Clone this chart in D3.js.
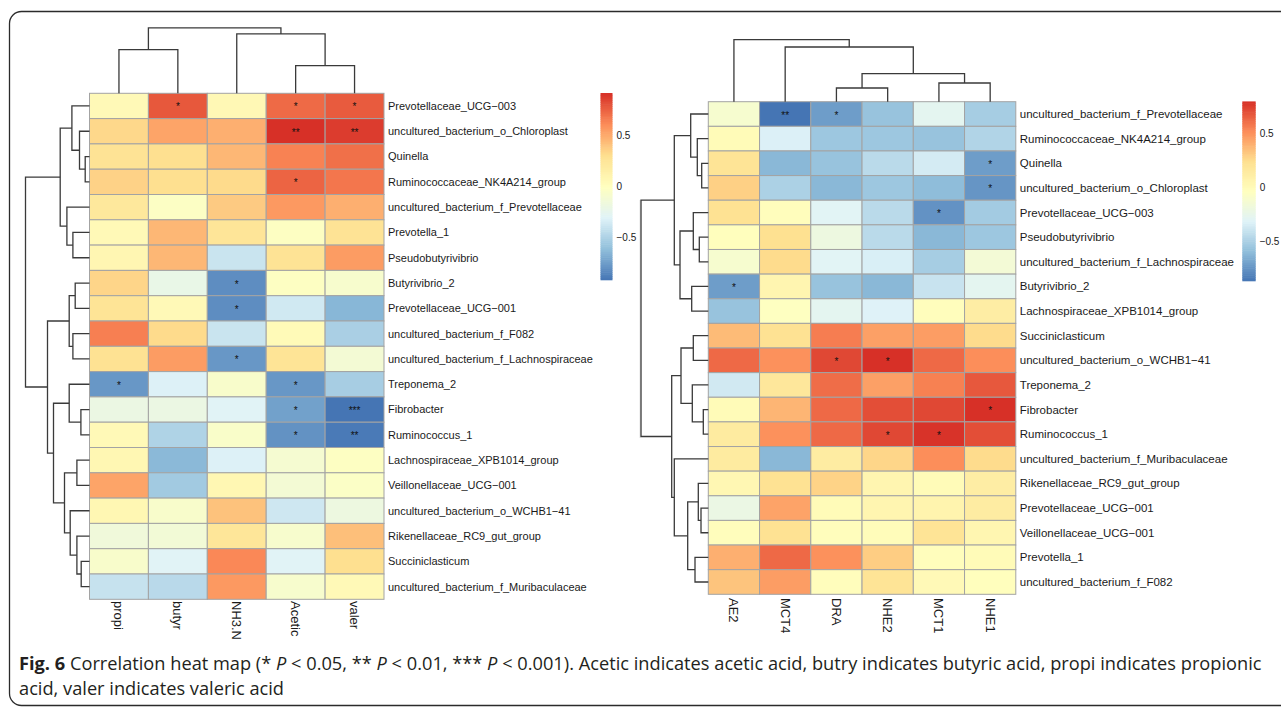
<!DOCTYPE html>
<html>
<head>
<meta http-equiv="Content-type" content="text/html; charset=utf-8">
<title>Fig. 6 correlation heat map</title>
<script src="https://cdn.jsdelivr.net/npm/d3@7"></script>
<style>
  body { margin: 0; background: #fff; }
  svg { display: block; font-family: "Liberation Sans", Arial, sans-serif; }
</style>
</head>
<body>
<svg id="chart" width="1281" height="710"></svg>
<script>

// ---------- left map: bacteria vs fermentation parameters ----------
var acidCols = ["propi", "butyr", "NH3.N", "Acetic", "valer"];
var acidRows = [
  "Prevotellaceae_UCG\u2212003", "uncultured_bacterium_o_Chloroplast", "Quinella",
  "Ruminococcaceae_NK4A214_group", "uncultured_bacterium_f_Prevotellaceae", "Prevotella_1",
  "Pseudobutyrivibrio", "Butyrivibrio_2", "Prevotellaceae_UCG\u2212001",
  "uncultured_bacterium_f_F082", "uncultured_bacterium_f_Lachnospiraceae", "Treponema_2",
  "Fibrobacter", "Ruminococcus_1", "Lachnospiraceae_XPB1014_group",
  "Veillonellaceae_UCG\u2212001", "uncultured_bacterium_o_WCHB1\u221241", "Rikenellaceae_RC9_gut_group",
  "Succiniclasticum", "uncultured_bacterium_f_Muribaculaceae"
];
var acidValues = [
  [ 0.05,  0.78,  0.06,  0.72,  0.77],
  [ 0.33,  0.52,  0.48,  0.91,  0.87],
  [ 0.27,  0.30,  0.45,  0.64,  0.70],
  [ 0.35,  0.30,  0.32,  0.74,  0.68],
  [ 0.22, -0.03,  0.38,  0.56,  0.48],
  [ 0.05,  0.45,  0.25, -0.02,  0.27],
  [ 0.08,  0.45, -0.40,  0.27,  0.55],
  [ 0.34, -0.22, -0.82, -0.02, -0.08],
  [ 0.26,  0.05, -0.82, -0.37, -0.65],
  [ 0.65,  0.32, -0.40,  0.04, -0.52],
  [ 0.28,  0.55, -0.78,  0.26, -0.12],
  [-0.78, -0.32, -0.07, -0.78, -0.53],
  [-0.20, -0.20, -0.30, -0.74, -0.92],
  [ 0.05, -0.50, -0.06, -0.80, -0.90],
  [ 0.07, -0.64, -0.32, -0.10, -0.02],
  [ 0.52, -0.55,  0.07, -0.12, -0.04],
  [ 0.07, -0.07,  0.41, -0.38, -0.18],
  [-0.15, -0.13,  0.24, -0.08,  0.42],
  [-0.07, -0.30,  0.62, -0.30,  0.30],
  [-0.41, -0.46,  0.56, -0.08,  0.05]
];
// [row, col, mark]
var acidStars = [
  [0, 1, "*"], [0, 3, "*"], [0, 4, "*"], [1, 3, "**"], [1, 4, "**"], [3, 3, "*"],
  [7, 2, "*"], [8, 2, "*"], [10, 2, "*"], [11, 0, "*"], [11, 3, "*"],
  [12, 3, "*"], [12, 4, "***"], [13, 3, "*"], [13, 4, "**"]
];
// dendrograms: [merge height, left, right], leaves are indices
var acidRowTree = [64,
  [29.3, [17.6, 0, [10, 1, [4.3, 2, 3]]], [22.6, 4, [16.6, 5, 6]]],
  [42,
    [20.3, [14.3, 7, 8], [16.6, 9, 10]],
    [36, [20.3, 11, [8.6, 12, 13]],
         [25, [12.6, 14, 15], [19.3, 16, [12.6, 17, [8.3, 18, 19]]]]]]
];
var acidColTree = [65.4, [43.7, 0, 1], [59.4, 2, [27.7, 3, 4]]];

// ---------- right map: bacteria vs transporter genes ----------
var geneCols = ["AE2", "MCT4", "DRA", "NHE2", "MCT1", "NHE1"];
var geneRows = [
  "uncultured_bacterium_f_Prevotellaceae", "Ruminococcaceae_NK4A214_group", "Quinella",
  "uncultured_bacterium_o_Chloroplast", "Prevotellaceae_UCG\u2212003", "Pseudobutyrivibrio",
  "uncultured_bacterium_f_Lachnospiraceae", "Butyrivibrio_2", "Lachnospiraceae_XPB1014_group",
  "Succiniclasticum", "uncultured_bacterium_o_WCHB1\u221241", "Treponema_2",
  "Fibrobacter", "Ruminococcus_1", "uncultured_bacterium_f_Muribaculaceae",
  "Rikenellaceae_RC9_gut_group", "Prevotellaceae_UCG\u2212001", "Veillonellaceae_UCG\u2212001",
  "Prevotella_1", "uncultured_bacterium_f_F082"
];
var geneValues = [
  [-0.12, -0.87, -0.72, -0.57, -0.28, -0.52],
  [ 0.00, -0.33, -0.55, -0.55, -0.57, -0.48],
  [ 0.20, -0.62, -0.57, -0.45, -0.36, -0.72],
  [ 0.29, -0.50, -0.62, -0.55, -0.60, -0.75],
  [ 0.22, -0.02, -0.30, -0.45, -0.76, -0.53],
  [-0.03,  0.23, -0.20, -0.45, -0.62, -0.55],
  [-0.12,  0.25, -0.30, -0.34, -0.52, -0.15],
  [-0.72,  0.05, -0.57, -0.62, -0.40, -0.28],
  [-0.57, -0.05, -0.28, -0.32, -0.02,  0.12],
  [ 0.36,  0.22,  0.56,  0.45,  0.46,  0.25],
  [ 0.62,  0.50,  0.72,  0.79,  0.62,  0.51],
  [-0.37,  0.17,  0.61,  0.45,  0.55,  0.67],
  [ 0.00,  0.38,  0.62,  0.70,  0.72,  0.79],
  [ 0.14,  0.50,  0.62,  0.72,  0.78,  0.70],
  [ 0.14, -0.62,  0.13,  0.27,  0.51,  0.25],
  [ 0.03,  0.22,  0.28,  0.05,  0.00,  0.12],
  [-0.22,  0.44,  0.00,  0.05,  0.06,  0.13],
  [-0.02,  0.22, -0.02, -0.01,  0.20,  0.04],
  [ 0.40,  0.62,  0.50,  0.30, -0.02,  0.00],
  [ 0.33,  0.46, -0.02,  0.20,  0.01, -0.03]
];
var geneStars = [
  [0, 1, "**"], [0, 2, "*"], [2, 5, "*"], [3, 5, "*"], [4, 4, "*"], [7, 0, "*"],
  [10, 2, "*"], [10, 3, "*"], [12, 5, "*"], [13, 3, "*"], [13, 4, "*"]
];
var geneRowTree = [67.3,
  [34, [17.6, 0, [11, 1, [6.6, 2, 3]]], [28.3, [15, 4, [9, 5, 6]], [16.6, 7, 8]]],
  [36.6,
    [27.3, [15, 9, 10], [16, 11, [5, 12, 13]]],
    [34, 14, [20.6, [10, 15, [7.3, 16, 17]], [13.3, 18, 19]]]]
];
var geneColTree = [62, 0, [54.7, 1, [28, [13.7, 2, 3], [18.7, 4, 5]]]];

var legendTicks = [0.5, 0, -0.5];
var palette = ["#4575B4", "#91BFDB", "#E0F3F8", "#FFFFBF", "#FEE090", "#FC8D59", "#D73027"];

var captionBold = "Fig. 6";
var captionLine1 = ["  Correlation heat map (* ", "P", " < 0.05, ** ", "P", " < 0.01, *** ", "P",
  " < 0.001). Acetic indicates acetic acid, butry indicates butyric acid, propi indicates propionic"];
var captionLine2 = "acid, valer indicates valeric acid";

var svg = d3.select("#chart");

// frame of the figure
svg.append("rect")
  .attr("x", 9.5).attr("y", 11.5).attr("width", 1300).attr("height", 694)
  .attr("rx", 12).attr("fill", "none").attr("stroke", "#2b2b2b").attr("stroke-width", 1.3);
svg.append("line")
  .attr("x1", 640).attr("x2", 640).attr("y1", 200).attr("y2", 438)
  .attr("stroke", "#e2e2e2").attr("stroke-width", 1);

function toNode(t) {
  if (Array.isArray(t)) return {h: t[0], children: [toNode(t[1]), toNode(t[2])]};
  return {h: 0, leaf: t};
}

function drawPanel(o) {
  var g = svg.append("g");
  var x = d3.scaleBand().domain(d3.range(o.cols.length))
    .range([o.left, o.left + o.cellW * o.cols.length]);
  var y = d3.scaleBand().domain(d3.range(o.rows.length))
    .range([o.top, o.top + o.cellH * o.rows.length]);

  var ext = d3.extent(d3.merge(o.values));
  var color = d3.scaleLinear()
    .domain(d3.range(7).map(function (i) { return ext[0] + (ext[1] - ext[0]) * i / 6; }))
    .range(palette).interpolate(d3.interpolateRgb);

  var cells = [];
  o.values.forEach(function (row, r) {
    row.forEach(function (v, c) { cells.push({r: r, c: c, v: v}); });
  });

  g.selectAll("rect.cell").data(cells).enter().append("rect")
    .attr("class", "cell")
    .attr("x", function (d) { return x(d.c); })
    .attr("y", function (d) { return y(d.r); })
    .attr("width", x.bandwidth())
    .attr("height", y.bandwidth())
    .attr("fill", function (d) { return color(d.v); })
    .attr("stroke", "#a3a3a3").attr("stroke-width", 1);

  g.selectAll("text.star").data(o.stars).enter().append("text")
    .attr("class", "star")
    .attr("x", function (d) { return x(d[1]) + x.bandwidth() / 2; })
    .attr("y", function (d) { return y(d[0]) + y.bandwidth() / 2 + 4.5; })
    .attr("text-anchor", "middle")
    .attr("font-size", 10).attr("fill", "#111")
    .text(function (d) { return d[2]; });

  // row labels
  g.selectAll("text.rowlab").data(o.rows).enter().append("text")
    .attr("class", "rowlab")
    .attr("x", x.range()[1] + 4)
    .attr("y", function (d, i) { return y(i) + y.bandwidth() / 2; })
    .attr("dy", "0.35em")
    .attr("font-size", o.rowFont).attr("fill", "#1a1a1a")
    .text(function (d) { return d; });

  // column labels, rotated
  g.selectAll("text.collab").data(o.cols).enter().append("text")
    .attr("class", "collab")
    .attr("transform", function (d, i) {
      return "translate(" + (x(i) + x.bandwidth() / 2) + "," + o.colLabY + ") rotate(90)";
    })
    .attr("dominant-baseline", "central")
    .attr("font-size", o.colFont).attr("fill", "#1a1a1a")
    .text(function (d) { return d; });

  var line = {fill: "none", stroke: "#3a3a3a", width: 1.3};

  // row dendrogram
  var rroot = d3.hierarchy(toNode(o.rowTree));
  var hx = d3.scaleLinear().domain([0, rroot.data.h]).range([o.left, o.left - o.rowDendW]);
  rroot.eachAfter(function (n) {
    n.pos = n.children ? (n.children[0].pos + n.children[1].pos) / 2
                       : y(n.data.leaf) + y.bandwidth() / 2;
  });
  g.selectAll("path.rden").data(rroot.descendants().filter(function (n) { return n.children; }))
    .enter().append("path")
    .attr("class", "rden")
    .attr("d", function (n) {
      var a = n.children[0], b = n.children[1];
      return "M" + hx(a.data.h) + "," + a.pos + "H" + hx(n.data.h) + "V" + b.pos + "H" + hx(b.data.h);
    })
    .attr("fill", line.fill).attr("stroke", line.stroke).attr("stroke-width", line.width);

  // column dendrogram
  var croot = d3.hierarchy(toNode(o.colTree));
  var hy = d3.scaleLinear().domain([0, croot.data.h]).range([o.top, o.top - o.colDendH]);
  croot.eachAfter(function (n) {
    n.pos = n.children ? (n.children[0].pos + n.children[1].pos) / 2
                       : x(n.data.leaf) + x.bandwidth() / 2;
  });
  g.selectAll("path.cden").data(croot.descendants().filter(function (n) { return n.children; }))
    .enter().append("path")
    .attr("class", "cden")
    .attr("d", function (n) {
      var a = n.children[0], b = n.children[1];
      return "M" + a.pos + "," + hy(a.data.h) + "V" + hy(n.data.h) + "H" + b.pos + "V" + hy(b.data.h);
    })
    .attr("fill", line.fill).attr("stroke", line.stroke).attr("stroke-width", line.width);

  // colour legend
  var ly = d3.scaleLinear().domain(ext).range([o.legBottom, o.legTop]);
  var steps = d3.range(100).map(function (i) { return ext[0] + (ext[1] - ext[0]) * (i + 0.5) / 100; });
  var stepH = (o.legBottom - o.legTop) / 100;
  g.selectAll("rect.leg").data(steps).enter().append("rect")
    .attr("class", "leg")
    .attr("x", o.legX).attr("width", o.legW)
    .attr("y", function (d) { return ly(d) - stepH / 2 - 0.3; })
    .attr("height", stepH + 0.6)
    .attr("fill", function (d) { return color(d); });
  g.selectAll("text.legtick").data(legendTicks).enter().append("text")
    .attr("class", "legtick")
    .attr("x", o.legX + o.legW + 4)
    .attr("y", function (d) { return ly(d); })
    .attr("dy", "0.35em")
    .attr("font-size", 10).attr("fill", "#1a1a1a")
    .text(function (d) { return d < 0 ? "\u2212" + Math.abs(d) : String(d); });
}

drawPanel({
  cols: acidCols, rows: acidRows, values: acidValues, stars: acidStars,
  rowTree: acidRowTree, colTree: acidColTree,
  left: 89.5, top: 93.3, cellW: 58.9, cellH: 25.3,
  rowDendW: 64, colDendH: 65.4, rowFont: 11, colFont: 13, colLabY: 601,
  legX: 600.5, legW: 12, legTop: 93.3, legBottom: 280
});

drawPanel({
  cols: geneCols, rows: geneRows, values: geneValues, stars: geneStars,
  rowTree: geneRowTree, colTree: geneColTree,
  left: 708.3, top: 101.7, cellW: 51.25, cellH: 24.63,
  rowDendW: 67.3, colDendH: 62, rowFont: 11.5, colFont: 13, colLabY: 598,
  legX: 1242.3, legW: 13.4, legTop: 101.7, legBottom: 281
});

// caption, squeezed to the width of the printed line
var cap = svg.append("g").attr("font-family", "'Open Sans', 'Liberation Sans', sans-serif")
  .attr("font-size", 18.5).attr("fill", "#231f20");
var t1 = cap.append("text").attr("x", 0).attr("y", 0);
t1.append("tspan").attr("font-weight", "bold").text(captionBold);
captionLine1.forEach(function (s) {
  t1.append("tspan").attr("font-style", s === "P" ? "italic" : null).text(s);
});
var sx = (1262 - 19) / t1.node().getComputedTextLength();
t1.attr("transform", "translate(19,670) scale(" + sx + ",1)");
cap.append("text").attr("transform", "translate(19,695) scale(" + sx + ",1)")
  .text(captionLine2);

</script>
</body>
</html>
